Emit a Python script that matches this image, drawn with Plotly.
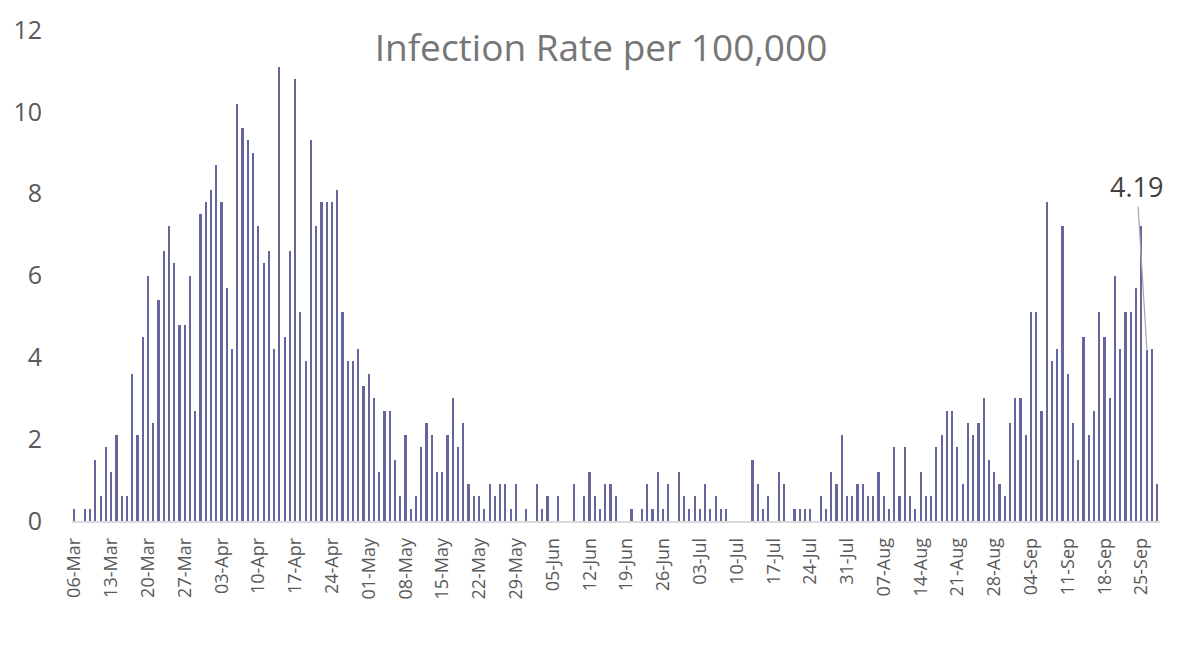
import pandas as pd
import plotly.graph_objects as go

start_date = "2020-03-06"
rates = [
    0.3, 0, 0.3, 0.3, 1.5, 0.6, 1.8, 1.2, 2.1, 0.6,
    0.6, 3.6, 2.1, 4.5, 6.0, 2.4, 5.4, 6.6, 7.2, 6.3,
    4.8, 4.8, 6.0, 2.7, 7.5, 7.8, 8.1, 8.7, 7.8, 5.7,
    4.2, 10.2, 9.6, 9.3, 9.0, 7.2, 6.3, 6.6, 4.2, 11.1,
    4.5, 6.6, 10.8, 5.1, 3.9, 9.3, 7.2, 7.8, 7.8, 7.8,
    8.1, 5.1, 3.9, 3.9, 4.2, 3.3, 3.6, 3.0, 1.2, 2.7,
    2.7, 1.5, 0.6, 2.1, 0.3, 0.6, 1.8, 2.4, 2.1, 1.2,
    1.2, 2.1, 3.0, 1.8, 2.4, 0.9, 0.6, 0.6, 0.3, 0.9,
    0.6, 0.9, 0.9, 0.3, 0.9, 0, 0.3, 0, 0.9, 0.3,
    0.6, 0, 0.6, 0, 0, 0.9, 0, 0.6, 1.2, 0.6,
    0.3, 0.9, 0.9, 0.6, 0, 0, 0.3, 0, 0.3, 0.9,
    0.3, 1.2, 0.3, 0.9, 0, 1.2, 0.6, 0.3, 0.6, 0.3,
    0.9, 0.3, 0.6, 0.3, 0.3, 0, 0, 0, 0, 1.5,
    0.9, 0.3, 0.6, 0, 1.2, 0.9, 0, 0.3, 0.3, 0.3,
    0.3, 0, 0.6, 0.3, 1.2, 0.9, 2.1, 0.6, 0.6, 0.9,
    0.9, 0.6, 0.6, 1.2, 0.6, 0.3, 1.8, 0.6, 1.8, 0.6,
    0.3, 1.2, 0.6, 0.6, 1.8, 2.1, 2.7, 2.7, 1.8, 0.9,
    2.4, 2.1, 2.4, 3.0, 1.5, 1.2, 0.9, 0.6, 2.4, 3.0,
    3.0, 2.1, 5.1, 5.1, 2.7, 7.8, 3.9, 4.2, 7.2, 3.6,
    2.4, 1.5, 4.5, 2.1, 2.7, 5.1, 4.5, 3.0, 6.0, 4.2,
    5.1, 5.1, 5.7, 7.2, 4.19, 4.2, 0.9,
]
dates = pd.date_range(start_date, periods=len(rates), freq="D")

tick_dates = pd.date_range(start_date, "2020-09-25", freq="7D")
tick_labels = [d.strftime("%d-%b") for d in tick_dates]
y_ticks = [0, 2, 4, 6, 8, 10, 12]

label_index = 204
label_text = "4.19"
title_text = "Infection Rate per 100,000"

day_ms = 86400000

fig = go.Figure()
fig.add_trace(go.Bar(
    x=dates,
    y=rates,
    width=[0.32 * day_ms] * len(rates),
    marker=dict(color="#66669F", line=dict(width=0)),
    hoverinfo="x+y",
))

fig.add_annotation(
    x=dates[label_index], y=rates[label_index],
    xref="x", yref="y",
    text=label_text,
    showarrow=True, arrowhead=0, arrowwidth=1.2, arrowcolor="#A6A6A6",
    ax=-10, ay=-163, standoff=0,
    font=dict(family="Open Sans", size=27, color="#404040"),
)

fig.update_layout(
    width=1178, height=663, autosize=False,
    margin=dict(l=72, r=18, t=24, b=142, pad=0),
    paper_bgcolor="white", plot_bgcolor="white",
    showlegend=False,
    bargap=0,
    title=dict(
        text=title_text,
        x=601 / 1178, xanchor="center", xref="container",
        y=1 - 48 / 663, yanchor="middle", yref="container",
        font=dict(family="Open Sans", size=37, color="#767676"),
    ),
    xaxis=dict(
        type="date",
        range=[dates[0] - pd.Timedelta(hours=12), dates[-1] + pd.Timedelta(hours=12)],
        tickmode="array",
        tickvals=tick_dates,
        ticktext=tick_labels,
        tickangle=-90,
        tickfont=dict(family="Open Sans", size=18, color="#595959"),
        showgrid=False, zeroline=False,
        showline=True, linecolor="#D9D9D9", linewidth=1.5,
        ticks="", ticklabelstandoff=8,
    ),
    yaxis=dict(
        range=[0, 12],
        tickmode="array",
        tickvals=y_ticks,
        ticktext=[str(v) for v in y_ticks],
        tickfont=dict(family="Open Sans", size=25, color="#595959"),
        showgrid=False, zeroline=False, showline=False,
        ticks="", ticklabelstandoff=29,
    ),
)

fig.write_html(
    "out.html",
    config={"displayModeBar": False},
    post_script="document.body.style.margin='0';document.body.style.overflow='hidden';",
)
